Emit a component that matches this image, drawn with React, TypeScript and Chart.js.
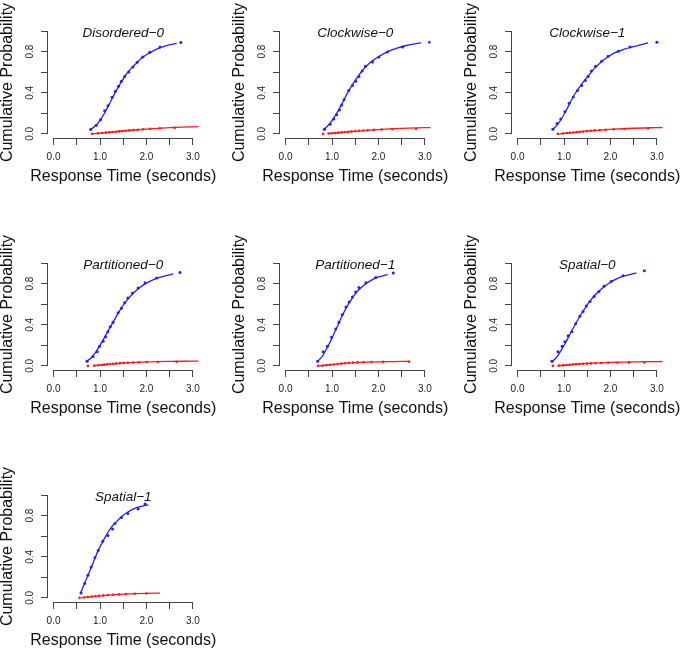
import React, { useEffect, useRef } from 'react';
import { Chart, registerables } from 'chart.js';

Chart.register(...registerables);

type Pt = [number, number];

// ---------- axes ----------
const X_TICKS = [0, 0.5, 1, 1.5, 2, 2.5, 3];
const X_LABELED = [0, 1, 2, 3];
const Y_TICKS = [0, 0.2, 0.4, 0.6, 0.8, 1.0];
const Y_LABELED = [0, 0.4, 0.8];
const X_TITLE = 'Response Time (seconds)';
const Y_TITLE = 'Cumulative Probability';

// ---------- Disordered-0 ----------
const disordered0CorrectObs: Pt[] = [[0.8, 0.042], [0.92, 0.085], [1.01, 0.137], [1.1, 0.225], [1.17, 0.274], [1.26, 0.356], [1.33, 0.415], [1.4, 0.464], [1.46, 0.513], [1.53, 0.559], [1.62, 0.601], [1.71, 0.65], [1.8, 0.696], [1.92, 0.748], [2.07, 0.794], [2.29, 0.846], [2.74, 0.889]];
const disordered0CorrectFit: Pt[] = [[0.78, 0.036], [0.9, 0.08], [1.0, 0.13], [1.1, 0.205], [1.2, 0.29], [1.3, 0.38], [1.4, 0.46], [1.5, 0.535], [1.6, 0.6], [1.7, 0.65], [1.8, 0.695], [1.9, 0.74], [2.0, 0.77], [2.2, 0.82], [2.4, 0.855], [2.65, 0.88]];
const disordered0ErrorObs: Pt[] = [[0.83, 0.0], [0.96, 0.005], [1.05, 0.009], [1.13, 0.012], [1.2, 0.015], [1.27, 0.018], [1.34, 0.021], [1.41, 0.024], [1.48, 0.027], [1.55, 0.03], [1.63, 0.034], [1.72, 0.037], [1.81, 0.041], [1.93, 0.045], [2.08, 0.049], [2.29, 0.054], [2.61, 0.059]];
const disordered0ErrorFit: Pt[] = [[0.85, 0.002], [1.0, 0.008], [1.25, 0.018], [1.5, 0.028], [1.75, 0.038], [2.0, 0.047], [2.25, 0.054], [2.5, 0.06], [2.75, 0.065], [3.0, 0.069], [3.2, 0.071]];

// ---------- Clockwise-0 ----------
const clockwise0CorrectObs: Pt[] = [[0.84, 0.046], [0.96, 0.095], [1.04, 0.144], [1.1, 0.186], [1.16, 0.232], [1.21, 0.281], [1.26, 0.333], [1.36, 0.422], [1.44, 0.471], [1.51, 0.513], [1.58, 0.559], [1.65, 0.611], [1.72, 0.657], [1.87, 0.699], [2.01, 0.748], [2.19, 0.797], [2.52, 0.846], [3.1, 0.892]];
const clockwise0CorrectFit: Pt[] = [[0.8, 0.035], [0.9, 0.075], [1.0, 0.13], [1.1, 0.2], [1.2, 0.28], [1.3, 0.37], [1.4, 0.45], [1.5, 0.52], [1.6, 0.585], [1.7, 0.64], [1.8, 0.685], [1.9, 0.72], [2.0, 0.75], [2.2, 0.8], [2.4, 0.835], [2.6, 0.86], [2.92, 0.885]];
const clockwise0ErrorObs: Pt[] = [[0.81, 0.0], [0.93, 0.003], [1.0, 0.006], [1.07, 0.009], [1.14, 0.012], [1.21, 0.015], [1.28, 0.018], [1.35, 0.021], [1.42, 0.024], [1.5, 0.027], [1.58, 0.03], [1.67, 0.033], [1.77, 0.036], [1.9, 0.039], [2.07, 0.042], [2.3, 0.045], [2.81, 0.048]];
const clockwise0ErrorFit: Pt[] = [[0.9, 0.002], [1.25, 0.015], [1.5, 0.025], [1.75, 0.034], [2.0, 0.042], [2.5, 0.053], [3.0, 0.06], [3.2, 0.063]];

// ---------- Clockwise-1 ----------
const clockwise1CorrectObs: Pt[] = [[0.76, 0.046], [0.85, 0.1], [0.93, 0.144], [1.02, 0.216], [1.11, 0.297], [1.2, 0.36], [1.29, 0.422], [1.38, 0.471], [1.46, 0.52], [1.52, 0.559], [1.59, 0.611], [1.68, 0.657], [1.81, 0.706], [1.95, 0.755], [2.17, 0.804], [2.42, 0.846], [3.0, 0.892]];
const clockwise1CorrectFit: Pt[] = [[0.75, 0.04], [0.85, 0.085], [0.95, 0.15], [1.05, 0.23], [1.15, 0.32], [1.25, 0.4], [1.35, 0.465], [1.45, 0.525], [1.55, 0.58], [1.65, 0.635], [1.8, 0.7], [1.95, 0.75], [2.1, 0.79], [2.3, 0.825], [2.5, 0.85], [2.81, 0.885]];
const clockwise1ErrorObs: Pt[] = [[0.87, 0.0], [0.98, 0.004], [1.06, 0.008], [1.13, 0.011], [1.2, 0.014], [1.27, 0.017], [1.34, 0.02], [1.41, 0.023], [1.49, 0.027], [1.57, 0.03], [1.66, 0.034], [1.77, 0.038], [1.9, 0.041], [2.07, 0.045], [2.3, 0.048], [2.81, 0.052]];
const clockwise1ErrorFit: Pt[] = [[0.9, 0.0], [1.25, 0.015], [1.5, 0.027], [1.75, 0.036], [2.0, 0.044], [2.5, 0.055], [3.0, 0.061], [3.2, 0.063]];

// ---------- Partitioned-0 ----------
const partitioned0CorrectObs: Pt[] = [[0.72, 0.045], [0.85, 0.091], [0.94, 0.137], [0.99, 0.19], [1.07, 0.239], [1.12, 0.284], [1.17, 0.333], [1.22, 0.38], [1.28, 0.425], [1.39, 0.516], [1.46, 0.562], [1.53, 0.615], [1.6, 0.66], [1.7, 0.709], [1.82, 0.758], [1.97, 0.81], [2.22, 0.856], [2.72, 0.909]];
const partitioned0CorrectFit: Pt[] = [[0.7, 0.04], [0.8, 0.075], [0.9, 0.13], [1.0, 0.2], [1.1, 0.28], [1.2, 0.36], [1.3, 0.44], [1.4, 0.52], [1.5, 0.59], [1.6, 0.65], [1.7, 0.7], [1.85, 0.76], [2.0, 0.805], [2.2, 0.85], [2.4, 0.875], [2.58, 0.895]];
const partitioned0ErrorObs: Pt[] = [[0.74, 0.0], [0.88, 0.003], [0.96, 0.006], [1.03, 0.009], [1.09, 0.012], [1.15, 0.015], [1.21, 0.018], [1.28, 0.021], [1.35, 0.024], [1.43, 0.027], [1.51, 0.029], [1.6, 0.031], [1.71, 0.033], [1.84, 0.035], [2.01, 0.037], [2.25, 0.038], [2.65, 0.039]];
const partitioned0ErrorFit: Pt[] = [[0.85, 0.0], [1.0, 0.007], [1.25, 0.018], [1.5, 0.027], [1.75, 0.034], [2.0, 0.039], [2.5, 0.044], [3.0, 0.046], [3.2, 0.047]];

// ---------- Partitioned-1 ----------
const partitioned1CorrectObs: Pt[] = [[0.69, 0.045], [0.81, 0.137], [0.9, 0.19], [0.99, 0.278], [1.08, 0.36], [1.15, 0.425], [1.22, 0.497], [1.3, 0.572], [1.37, 0.621], [1.44, 0.67], [1.51, 0.719], [1.58, 0.762], [1.73, 0.81], [1.94, 0.86], [2.32, 0.905]];
const partitioned1CorrectFit: Pt[] = [[0.68, 0.039], [0.8, 0.1], [0.9, 0.18], [1.0, 0.27], [1.1, 0.37], [1.2, 0.47], [1.3, 0.56], [1.4, 0.635], [1.5, 0.7], [1.6, 0.75], [1.7, 0.79], [1.85, 0.835], [2.0, 0.865], [2.2, 0.889]];
const partitioned1ErrorObs: Pt[] = [[0.7, 0.0], [0.8, 0.003], [0.88, 0.006], [0.96, 0.01], [1.04, 0.014], [1.12, 0.018], [1.2, 0.022], [1.28, 0.026], [1.36, 0.029], [1.45, 0.032], [1.55, 0.034], [1.68, 0.036], [1.85, 0.038], [2.1, 0.039], [2.66, 0.041]];
const partitioned1ErrorFit: Pt[] = [[0.72, 0.0], [1.0, 0.012], [1.25, 0.024], [1.5, 0.032], [1.75, 0.037], [2.0, 0.04], [2.3, 0.042], [2.68, 0.044]];

// ---------- Spatial-0 ----------
const spatial0CorrectObs: Pt[] = [[0.74, 0.045], [0.87, 0.137], [0.96, 0.19], [1.02, 0.235], [1.09, 0.294], [1.17, 0.333], [1.25, 0.41], [1.34, 0.484], [1.41, 0.529], [1.48, 0.582], [1.56, 0.627], [1.65, 0.676], [1.75, 0.725], [1.86, 0.774], [2.02, 0.824], [2.27, 0.876], [2.73, 0.925]];
const spatial0CorrectFit: Pt[] = [[0.74, 0.039], [0.85, 0.09], [0.95, 0.16], [1.05, 0.24], [1.15, 0.33], [1.25, 0.41], [1.35, 0.49], [1.45, 0.56], [1.55, 0.625], [1.65, 0.68], [1.8, 0.745], [1.95, 0.8], [2.1, 0.84], [2.3, 0.875], [2.56, 0.905]];
const spatial0ErrorObs: Pt[] = [[0.76, 0.0], [0.9, 0.003], [0.98, 0.005], [1.05, 0.008], [1.12, 0.011], [1.19, 0.013], [1.26, 0.016], [1.33, 0.018], [1.41, 0.02], [1.49, 0.022], [1.58, 0.024], [1.68, 0.026], [1.8, 0.028], [1.95, 0.03], [2.15, 0.031], [2.4, 0.032], [2.73, 0.033]];
const spatial0ErrorFit: Pt[] = [[0.85, 0.0], [1.0, 0.006], [1.25, 0.016], [1.5, 0.024], [1.75, 0.03], [2.0, 0.034], [2.5, 0.039], [3.0, 0.042], [3.2, 0.043]];

// ---------- Spatial-1 ----------
const spatial1CorrectObs: Pt[] = [[0.59, 0.048], [0.67, 0.139], [0.74, 0.22], [0.81, 0.3], [0.89, 0.39], [0.96, 0.46], [1.06, 0.55], [1.17, 0.606], [1.27, 0.671], [1.32, 0.725], [1.46, 0.783], [1.6, 0.822], [1.82, 0.864], [1.97, 0.913]];
const spatial1CorrectFit: Pt[] = [[0.58, 0.048], [0.65, 0.12], [0.75, 0.23], [0.85, 0.34], [0.95, 0.45], [1.05, 0.54], [1.15, 0.62], [1.25, 0.69], [1.35, 0.74], [1.45, 0.785], [1.6, 0.835], [1.8, 0.88], [2.04, 0.906]];
const spatial1ErrorObs: Pt[] = [[0.56, 0.0], [0.66, 0.004], [0.74, 0.008], [0.82, 0.012], [0.9, 0.016], [0.98, 0.02], [1.07, 0.024], [1.17, 0.028], [1.28, 0.031], [1.41, 0.034], [1.56, 0.037], [1.75, 0.04], [2.0, 0.042]];
const spatial1ErrorFit: Pt[] = [[0.6, 0.002], [0.8, 0.01], [1.0, 0.02], [1.25, 0.03], [1.5, 0.036], [1.75, 0.041], [2.0, 0.044], [2.29, 0.046]];

const PANEL_TITLES = ['Disordered\u22120', 'Clockwise\u22120', 'Clockwise\u22121', 'Partitioned\u22120', 'Partitioned\u22121', 'Spatial\u22120', 'Spatial\u22121'];

const PANELS = [
  { title: PANEL_TITLES[0], co: disordered0CorrectObs, cf: disordered0CorrectFit, eo: disordered0ErrorObs, ef: disordered0ErrorFit },
  { title: PANEL_TITLES[1], co: clockwise0CorrectObs, cf: clockwise0CorrectFit, eo: clockwise0ErrorObs, ef: clockwise0ErrorFit },
  { title: PANEL_TITLES[2], co: clockwise1CorrectObs, cf: clockwise1CorrectFit, eo: clockwise1ErrorObs, ef: clockwise1ErrorFit },
  { title: PANEL_TITLES[3], co: partitioned0CorrectObs, cf: partitioned0CorrectFit, eo: partitioned0ErrorObs, ef: partitioned0ErrorFit },
  { title: PANEL_TITLES[4], co: partitioned1CorrectObs, cf: partitioned1CorrectFit, eo: partitioned1ErrorObs, ef: partitioned1ErrorFit },
  { title: PANEL_TITLES[5], co: spatial0CorrectObs, cf: spatial0CorrectFit, eo: spatial0ErrorObs, ef: spatial0ErrorFit },
  { title: PANEL_TITLES[6], co: spatial1CorrectObs, cf: spatial1CorrectFit, eo: spatial1ErrorObs, ef: spatial1ErrorFit },
];

const PANEL_W = 221;
const PANEL_H = 186;
const CELL = 232;
const FONT = '"Liberation Sans", Arial, Helvetica, sans-serif';
const AXIS_COLOR = '#444444';
const TEXT_COLOR = '#222222';
const BLUE = '#2020ff';
const RED = '#ff1a1a';

function Panel({ title, co, cf, eo, ef }: { title: string; co: Pt[]; cf: Pt[]; eo: Pt[]; ef: Pt[] }) {
  const ref = useRef<HTMLCanvasElement | null>(null);
  useEffect(() => {
    if (!ref.current) return;
    const toXY = (a: Pt[]) => a.map(([x, y]) => ({ x, y }));
    const rAxes = {
      id: 'rAxes',
      afterDraw(chart: any) {
        const { ctx, chartArea } = chart;
        const xs = chart.scales.x;
        const ys = chart.scales.y;
        ctx.save();
        ctx.strokeStyle = AXIS_COLOR;
        ctx.lineWidth = 1;
        ctx.beginPath();
        const yb = Math.round(chartArea.bottom) + 0.5;
        ctx.moveTo(xs.getPixelForValue(X_TICKS[0]), yb);
        ctx.lineTo(xs.getPixelForValue(X_TICKS[X_TICKS.length - 1]), yb);
        const xl = Math.round(chartArea.left) - 0.5;
        ctx.moveTo(xl, ys.getPixelForValue(Y_TICKS[0]));
        ctx.lineTo(xl, ys.getPixelForValue(Y_TICKS[Y_TICKS.length - 1]));
        ctx.stroke();
        const cx = (chartArea.left + chartArea.right) / 2;
        // panel title (inside plot region, like R's title(line=-1))
        ctx.font = 'italic 13.5px ' + FONT;
        ctx.fillStyle = '#111111';
        ctx.textAlign = 'center';
        ctx.textBaseline = 'middle';
        ctx.fillText(title, cx, ys.getPixelForValue(0.98));
        // x-axis title, drawn without width compression
        ctx.font = '16px ' + FONT;
        ctx.textBaseline = 'alphabetic';
        ctx.fillText(X_TITLE, cx, chartArea.bottom + 43);
        ctx.restore();
      },
    };
    const chart = new Chart(ref.current, {
      type: 'scatter',
      data: {
        datasets: [
          { data: toXY(cf), showLine: true, borderColor: BLUE, borderWidth: 1.3, pointRadius: 0, cubicInterpolationMode: 'monotone', fill: false },
          { data: toXY(ef), showLine: true, borderColor: RED, borderWidth: 1.3, pointRadius: 0, cubicInterpolationMode: 'monotone', fill: false },
          { data: toXY(co), showLine: false, backgroundColor: BLUE, borderColor: BLUE, borderWidth: 0, pointRadius: 1.5 },
          { data: toXY(eo), showLine: false, backgroundColor: RED, borderColor: RED, borderWidth: 0, pointRadius: 1.3 },
        ] as any,
      },
      options: {
        animation: false,
        responsive: false,
        events: [],
        layout: { padding: { left: 0, top: 27, right: 22.5, bottom: 0 } },
        plugins: { legend: { display: false }, tooltip: { enabled: false }, title: { display: false } },
        scales: {
          x: {
            type: 'linear',
            min: -0.12,
            max: 3.12,
            afterBuildTicks: (s: any) => { s.ticks = X_TICKS.map((v) => ({ value: v })); },
            afterFit: (s: any) => { s.height = 48; },
            grid: { display: true, drawOnChartArea: false, drawTicks: true, tickLength: 7, color: AXIS_COLOR, lineWidth: 1 },
            border: { display: false },
            ticks: {
              autoSkip: false,
              maxRotation: 0,
              minRotation: 0,
              padding: 6,
              color: TEXT_COLOR,
              font: { size: 10, family: FONT },
              callback: (v: any) => (X_LABELED.includes(Number(v)) ? Number(v).toFixed(1) : ''),
            },
            title: { display: false },
          },
          y: {
            type: 'linear',
            min: -0.04,
            max: 1.04,
            afterBuildTicks: (s: any) => { s.ticks = Y_TICKS.map((v) => ({ value: v })); },
            afterFit: (s: any) => { s.width = 48; },
            grid: { display: true, drawOnChartArea: false, drawTicks: true, tickLength: 7, color: AXIS_COLOR, lineWidth: 1 },
            border: { display: false },
            ticks: {
              autoSkip: false,
              minRotation: 90,
              maxRotation: 90,
              crossAlign: 'center',
              padding: 4,
              color: TEXT_COLOR,
              font: { size: 10, family: FONT },
              callback: (v: any) => (Y_LABELED.includes(Number(v)) ? Number(v).toFixed(1) : ''),
            },
            title: { display: true, text: Y_TITLE, color: '#111111', font: { size: 16, family: FONT, lineHeight: 1 }, padding: { top: 0, bottom: 0 } },
          },
        },
      } as any,
      plugins: [rAxes],
    });
    return () => chart.destroy();
  }, [title, co, cf, eo, ef]);
  return <canvas ref={ref} width={PANEL_W} height={PANEL_H} style={{ display: 'block', width: PANEL_W, height: PANEL_H }} />;
}

export default function App() {
  return (
    <div style={{ position: 'fixed', left: 0, top: 0, width: 685, height: 650, background: '#ffffff', overflow: 'hidden' }}>
      {PANELS.map((p, i) => (
        <div key={p.title} style={{ position: 'absolute', left: (i % 3) * CELL, top: Math.floor(i / 3) * CELL, width: PANEL_W, height: PANEL_H }}>
          <Panel {...p} />
        </div>
      ))}
    </div>
  );
}
